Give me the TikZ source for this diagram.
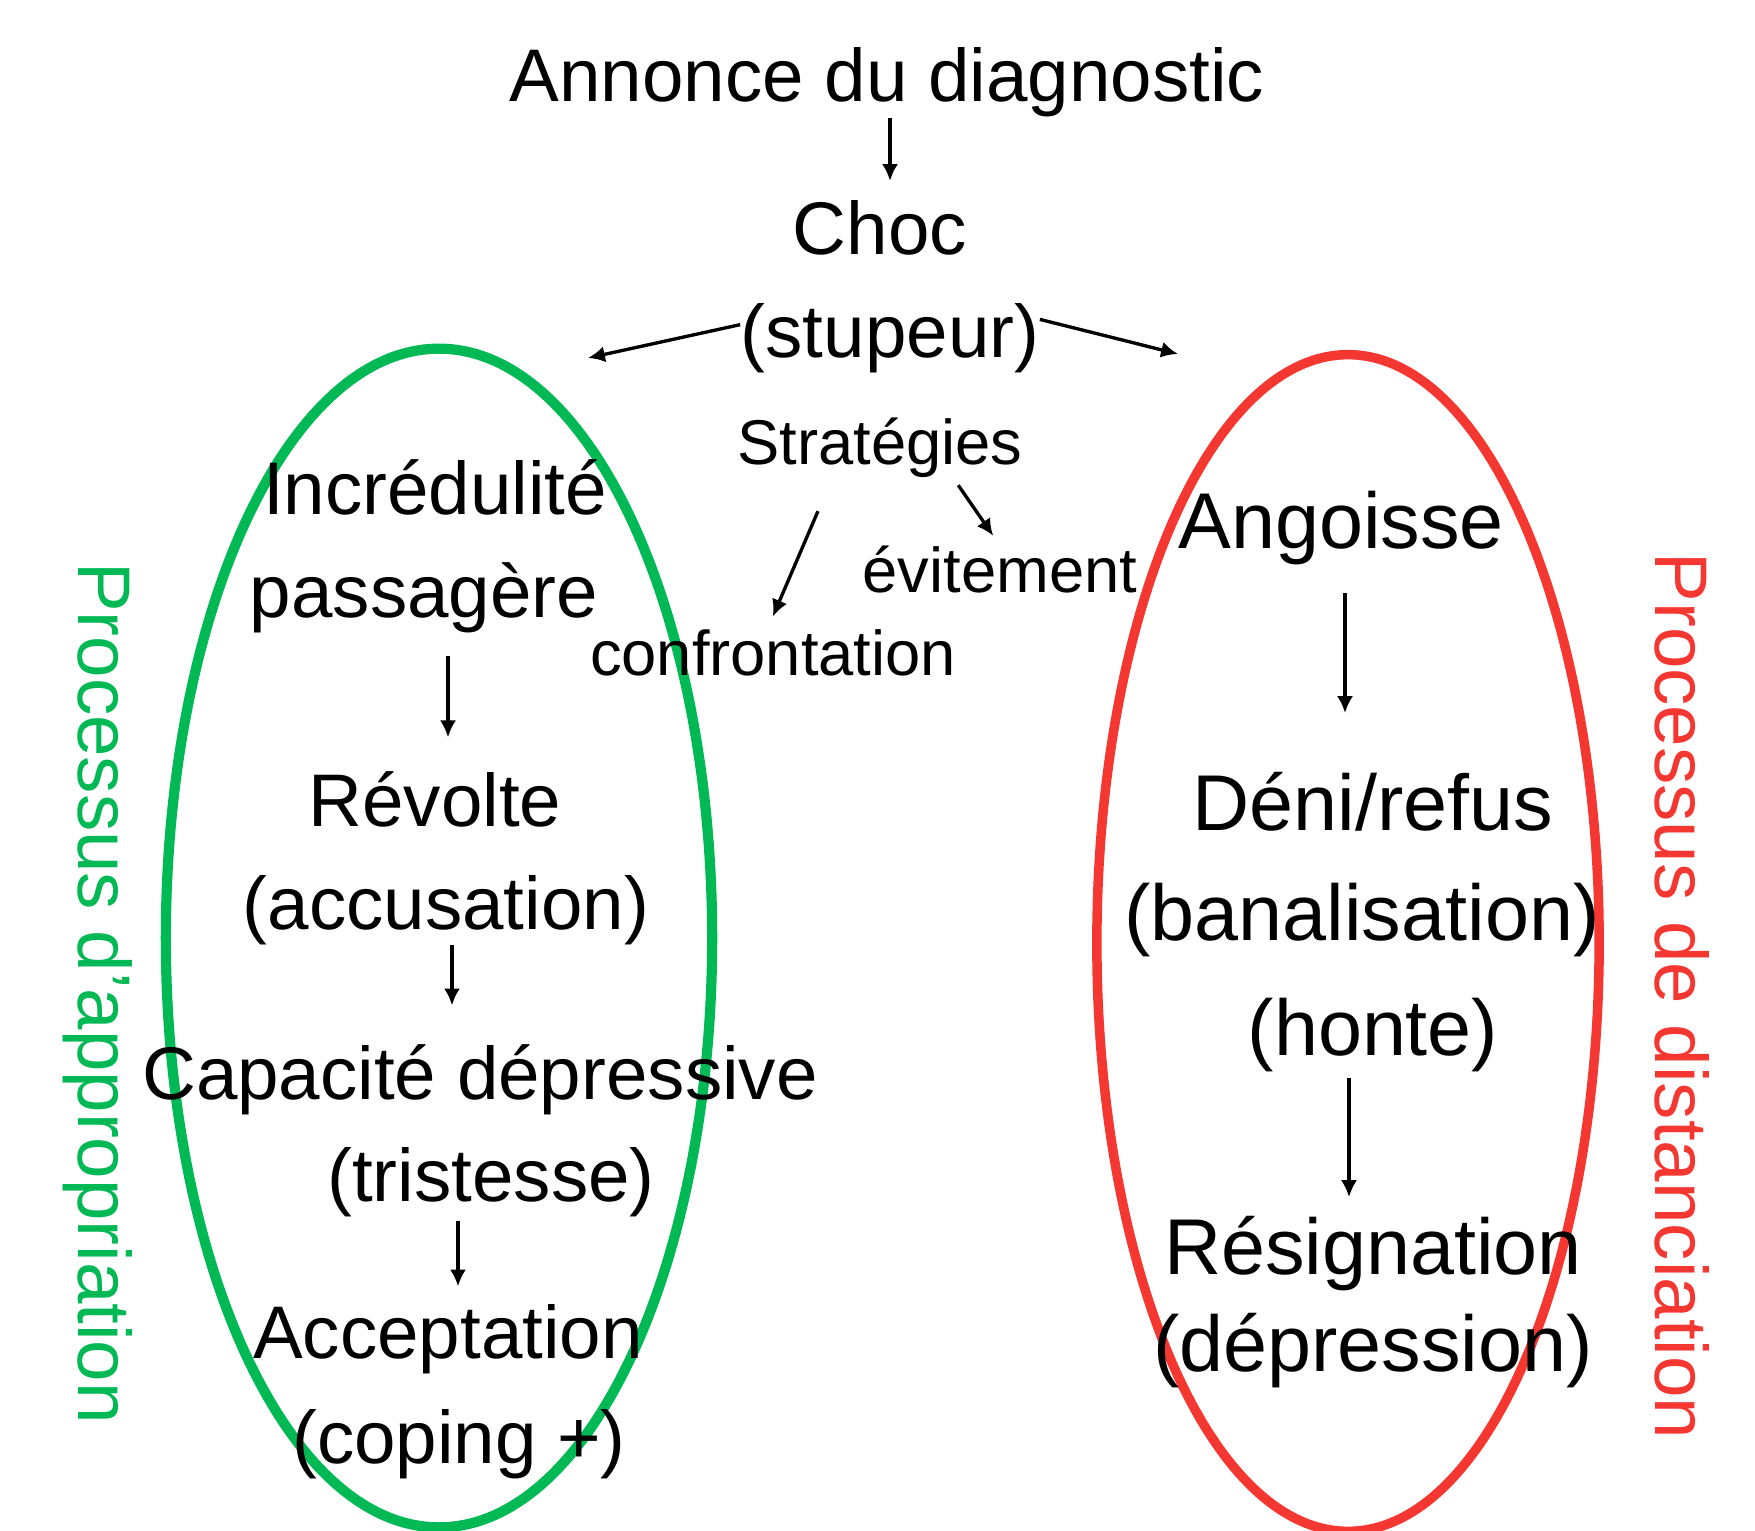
\documentclass[tikz,border=0pt]{standalone}
\usepackage{fontspec}
\setmainfont{Liberation Sans}
\usetikzlibrary{arrows.meta}
\definecolor{vertA}{RGB}{0,184,84}
\definecolor{rougeD}{RGB}{245,55,50}
\newcommand{\grand}{\fontsize{21.2}{25}\selectfont}
\newcommand{\plusgrand}{\fontsize{22.5}{27}\selectfont}
\newcommand{\petit}{\fontsize{18}{21}\selectfont}
\tikzset{
  txt/.style={inner sep=0pt, anchor=base, font=\grand},
  txtD/.style={inner sep=0pt, anchor=base, font=\plusgrand},
  txtS/.style={inner sep=0pt, anchor=base, font=\petit},
  fleche/.style={line width=0.95pt,-{Latex[length=4.8pt,width=4.6pt]}},
}
\begin{document}
\begin{tikzpicture}[x=0.01cm,y=-0.01cm]
                \useasboundingbox (0,0) rectangle (1755,1531);
                %% ellipses
                \draw[vertA,line width=2.9pt] (439,938) ellipse [x radius=2.73cm, y radius=5.89cm];
                \draw[rougeD,line width=2.7pt] (1348,943) ellipse [x radius=2.51cm, y radius=5.88cm];
                %% top
                \node[txt] (annonce) at (887,102) {Annonce du diagnostic};
                \node[txt] (choc) at (880,255) {Choc};
                \node[txt] (stupeur) at (890,358) {(stupeur)};
                \coordinate (versA) at (588,358);
                \coordinate (versD) at (1178,354);
                \draw[fleche,shorten >=5.5pt] (annonce.south -| 890,0) -- (choc.north -| 890,0);
                \draw[fleche] ([yshift=4pt]stupeur.west) -- (versA);
                \draw[fleche] ([yshift=5.5pt]stupeur.east) -- (versD);
                %% strategies
                \node[txtS] (strat) at (880,465) {Stratégies};
                \node[txtS] (confr) at (773,675) {confrontation};
                \node[txtS] (evit) at (1000,593) {évitement};
                \draw[fleche,shorten <=10pt,shorten >=3.7pt] ([xshift=-13.7pt]strat.south) -- ([xshift=-1.5pt]confr.north);
                \draw[fleche,shorten <=2.2pt,shorten >=3.4pt] ([xshift=21pt]strat.south) -- (evit.north);
                %% appropriation
                \node[txt] (incred) at (435,515) {Incrédulité};
                \node[txt] (pass) at (424,617) {passagère};
                \node[txt] (revolte) at (435,826) {Révolte};
                \node[txt] (accus) at (446,929) {(accusation)};
                \node[txt] (capac) at (480,1099) {Capacité dépressive};
                \node[txt] (trist) at (491,1201) {(tristesse)};
                \node[txt] (accept) at (448,1358) {Acceptation};
                \node[txt] (coping) at (459,1463) {(coping +)};
                \draw[fleche,shorten <=6.5pt,shorten >=9.4pt] (pass.south -| 448,0) -- (revolte.north -| 448,0);
                \draw[fleche,shorten >=10.8pt] (accus.south -| 452,0) -- (capac.north -| 452,0);
                \draw[fleche,shorten <=1pt,shorten >=4.8pt] (trist.south -| 458,0) -- (accept.north -| 458,0);
                %% distanciation
                \node[txtD] (angoisse) at (1341,548) {Angoisse};
                \node[txtD] (deni) at (1373,830) {Déni/refus};
                \node[txtD] (banal) at (1362,940) {(banalisation)};
                \node[txtD] (honte) at (1373,1055) {(honte)};
                \node[txtD] (resign) at (1373,1274) {Résignation};
                \node[txtD] (depress) at (1373,1371) {(dépression)};
                \draw[fleche,shorten <=8pt,shorten >=16.5pt] (angoisse.south -| 1345,0) -- (deni.north -| 1345,0);
                \draw[fleche,shorten <=1.7pt,shorten >=5.1pt] (honte.south -| 1349,0) -- (resign.north -| 1349,0);
                %% side labels
                \node[font=\grand,text=vertA,rotate=-90,inner sep=0pt] (procA) at (98,993) {Processus d’appropriation};
                \node[font=\grand,text=rougeD,rotate=-90,inner sep=0pt] (procD) at (1682,996) {Processus de distanciation};
\end{tikzpicture}
\end{document}
